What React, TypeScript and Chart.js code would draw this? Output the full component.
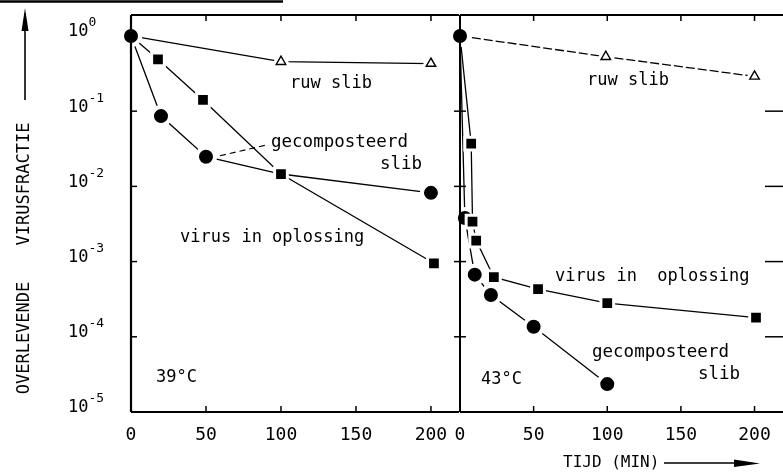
import React, { useEffect, useRef } from "react";
import { Chart, registerables } from "chart.js";

Chart.register(...registerables);

// ---- axes ----
const timeTicks = [0, 50, 100, 150, 200];
const decadeExponents = [0, -1, -2, -3, -4, -5];
const Y_MIN = 1e-5;
const Y_MAX = 1.9;
const X_MAX_39 = 218.7;
const X_MAX_43 = 210.5;

// ---- 39 °C ----
const ruw39X = [0, 100, 200];
const ruw39Y = [1, 0.455, 0.43];
const opl39X = [0, 18, 48, 100, 202];
const opl39Y = [1, 0.49, 0.141, 0.0146, 0.00095];
const comp39X = [0, 20, 50, 100, 200];
const comp39Y = [1, 0.086, 0.0248, 0.0146, 0.0082];

// ---- 43 °C ----
const ruw43X = [0, 99, 200];
const ruw43Y = [1, 0.53, 0.29];
const opl43X = [0, 7.6, 8.5, 11, 23, 53, 100, 201];
const opl43Y = [1, 0.037, 0.0034, 0.0019, 0.00062, 0.00043, 0.00028, 0.00018];
const comp43X = [0, 3.3, 10, 21, 50, 100];
const comp43Y = [1, 0.0038, 0.00067, 0.00036, 0.000136, 0.0000235];

const MONO = '"DejaVu Sans Mono", monospace';

const toPts = (xs: number[], ys: number[]) => xs.map((x, i) => ({ x, y: ys[i] }));

function buildDatasets(
  ruwX: number[], ruwY: number[],
  oplX: number[], oplY: number[],
  compX: number[], compY: number[],
  hiddenComp: number[], ruwDash: number[]
) {
  const ruw = toPts(ruwX, ruwY);
  const opl = toPts(oplX, oplY);
  const comp = toPts(compX, compY);
  const line = { borderColor: "#000", borderWidth: 1.3, tension: 0, fill: false, clip: false as const };
  return [
    // open triangles, on top of everything
    {
      data: ruw.slice(1), showLine: false, clip: false as const,
      pointStyle: "triangle", pointRadius: 5.5,
      pointBackgroundColor: "#fff", pointBorderColor: "#000", pointBorderWidth: 1.4,
    },
    // virus in oplossing (squares)
    {
      ...line, data: opl,
      pointStyle: opl.map((_, i) => (i === 0 ? "circle" : "rect")),
      pointRadius: 9, pointBackgroundColor: "#000", pointBorderColor: "#fff",
      pointBorderWidth: opl.map((_, i) => (i === 0 ? 4 : 3)),
    },
    // gecomposteerd slib (dots)
    {
      ...line, data: comp,
      pointStyle: "circle",
      pointRadius: comp.map((_, i) => (hiddenComp.includes(i) ? 0 : 9)),
      pointBackgroundColor: "#000", pointBorderColor: "#fff", pointBorderWidth: 4,
    },
    // ruw slib line, with a white mask under each triangle
    {
      ...line, data: ruw, borderDash: ruwDash,
      pointStyle: ruw.map((_, i) => (i === 0 ? "circle" : "triangle")),
      pointRadius: ruw.map((_, i) => (i === 0 ? 9 : 8)),
      pointBackgroundColor: ruw.map((_, i) => (i === 0 ? "#000" : "#fff")),
      pointBorderColor: "#fff",
      pointBorderWidth: ruw.map((_, i) => (i === 0 ? 4 : 5)),
    },
  ];
}

function text(ctx: CanvasRenderingContext2D, s: string, x: number, y: number, size: number, align: CanvasTextAlign = "left") {
  ctx.font = `${size}px ${MONO}`;
  ctx.textAlign = align;
  ctx.textBaseline = "middle";
  ctx.fillStyle = "#000";
  ctx.fillText(s, x, y);
}

function seg(ctx: CanvasRenderingContext2D, x1: number, y1: number, x2: number, y2: number, w: number) {
  ctx.lineWidth = w;
  ctx.beginPath();
  ctx.moveTo(x1, y1);
  ctx.lineTo(x2, y2);
  ctx.stroke();
}

// frame, ticks and labels of the 39 °C panel (also carries the y axis)
const leftPanelDecor = {
  id: "leftPanelDecor",
  afterDatasetsDraw(chart: any) {
    const ctx: CanvasRenderingContext2D = chart.ctx;
    const { left, right, top, bottom } = chart.chartArea;
    const xs = chart.scales.x;
    const ys = chart.scales.y;
    ctx.save();
    ctx.strokeStyle = "#000";
    ctx.setLineDash([]);

    // stray rule across the top of the sheet
    seg(ctx, 0, 1.5, 283, 1.5, 2.5);

    seg(ctx, left, top, left, bottom, 2.2);
    seg(ctx, left, top, right, top, 2);
    seg(ctx, left, bottom, right, bottom, 2);
    decadeExponents.forEach((e) => {
      const y = ys.getPixelForValue(Math.pow(10, e));
      if (e !== 0 && e !== -5) seg(ctx, left, y, left + 6, y, 1.5);
      text(ctx, "10", 68, y - 4, 17);
      text(ctx, e === 0 ? "0" : "-" + Math.abs(e), 88.5, y - 13, 13);
    });
    timeTicks.forEach((t) => {
      const x = xs.getPixelForValue(t);
      if (t !== 0) {
        seg(ctx, x, bottom, x, bottom - 6, 1.5);
        seg(ctx, x, top, x, top + 6, 1.5);
      }
      text(ctx, String(t), x, 435, 18, "center");
    });

    // y axis title with arrow
    ctx.save();
    ctx.translate(25, 0);
    ctx.rotate(-Math.PI / 2);
    text(ctx, "VIRUSFRACTIE", -184, 0, 17, "center");
    text(ctx, "OVERLEVENDE", -338, 0, 17, "center");
    ctx.restore();
    seg(ctx, 25, 100, 25, 24, 1.6);
    ctx.fillStyle = "#000";
    ctx.beginPath();
    ctx.moveTo(25, 8);
    ctx.lineTo(28.5, 31);
    ctx.lineTo(21.5, 31);
    ctx.closePath();
    ctx.fill();

    // annotations
    text(ctx, "ruw slib", 290, 84, 17);
    text(ctx, "gecomposteerd", 271, 142, 17.5);
    text(ctx, "slib", 380, 164, 17.5);
    text(ctx, "virus in oplossing", 180, 238, 17);
    text(ctx, "39°C", 156, 378, 17);

    // dashed leader to the 50 min dot
    const px = xs.getPixelForValue(comp39X[2]);
    const py = ys.getPixelForValue(comp39Y[2]);
    ctx.setLineDash([6, 4]);
    seg(ctx, px + 14, py - 1, px + 62, py - 12, 1.2);
    ctx.setLineDash([]);
    ctx.restore();
  },
};

// frame, ticks and labels of the 43 °C panel
const rightPanelDecor = {
  id: "rightPanelDecor",
  afterDatasetsDraw(chart: any) {
    const ctx: CanvasRenderingContext2D = chart.ctx;
    const { left, right, top, bottom } = chart.chartArea;
    const xs = chart.scales.x;
    const ys = chart.scales.y;
    ctx.save();
    ctx.strokeStyle = "#000";
    ctx.setLineDash([]);
    seg(ctx, left, top, left, bottom, 2);
    seg(ctx, left, top, 783, top, 2);
    seg(ctx, left, bottom, 783, bottom, 2);
    decadeExponents.forEach((e) => {
      if (e === 0 || e === -5) return;
      const y = ys.getPixelForValue(Math.pow(10, e));
      seg(ctx, left - 6, y, left + 6, y, 1.5);
      seg(ctx, 783, y, right - 5, y, 1.5);
    });
    timeTicks.forEach((t) => {
      const x = xs.getPixelForValue(t);
      if (t !== 0) {
        seg(ctx, x, bottom, x, bottom - 6, 1.5);
        seg(ctx, x, top, x, top + 6, 1.5);
      }
      text(ctx, String(t), x, 435, 18, "center");
    });

    // x axis title with arrow
    text(ctx, "TIJD (MIN)", 563, 463, 16);
    seg(ctx, 664, 463, 740, 463, 1.6);
    ctx.fillStyle = "#000";
    ctx.beginPath();
    ctx.moveTo(760, 463.5);
    ctx.lineTo(734, 459.5);
    ctx.lineTo(734, 467);
    ctx.closePath();
    ctx.fill();

    // annotations
    text(ctx, "ruw slib", 587, 81, 17);
    text(ctx, "virus in  oplossing", 555, 277, 17);
    text(ctx, "gecomposteerd", 592, 352, 17.5);
    text(ctx, "slib", 698, 374, 17.5);
    text(ctx, "43°C", 481, 380, 17);
    ctx.restore();
  },
};

function makeOptions(xMax: number, padding: any) {
  return {
    responsive: false,
    animation: false as const,
    events: [] as any[],
    layout: { padding },
    plugins: { legend: { display: false }, tooltip: { enabled: false } },
    scales: {
      x: { type: "linear" as const, min: 0, max: xMax, display: false },
      y: { type: "logarithmic" as const, min: Y_MIN, max: Y_MAX, display: false },
    },
  };
}

export default function App() {
  const leftRef = useRef<HTMLCanvasElement>(null);
  const rightRef = useRef<HTMLCanvasElement>(null);

  useEffect(() => {
    const left = new Chart(leftRef.current!, {
      type: "line",
      data: { datasets: buildDatasets(ruw39X, ruw39Y, opl39X, opl39Y, comp39X, comp39Y, [3], []) as any },
      options: makeOptions(X_MAX_39, { left: 131, right: 324, top: 15, bottom: 62 }) as any,
      plugins: [leftPanelDecor],
    });
    const right = new Chart(rightRef.current!, {
      type: "line",
      data: { datasets: buildDatasets(ruw43X, ruw43Y, opl43X, opl43Y, comp43X, comp43Y, [], [9, 3]) as any },
      options: makeOptions(X_MAX_43, { left: 460, right: 1, top: 15, bottom: 62 }) as any,
      plugins: [rightPanelDecor],
    });
    return () => {
      left.destroy();
      right.destroy();
    };
  }, []);

  const canvasStyle: React.CSSProperties = { position: "absolute", left: 0, top: 0, width: 783, height: 474 };
  return (
    <div style={{ position: "absolute", left: 0, top: 0, width: 783, height: 474, background: "#fff", overflow: "hidden" }}>
      <canvas ref={leftRef} width={783} height={474} style={canvasStyle} />
      <canvas ref={rightRef} width={783} height={474} style={canvasStyle} />
    </div>
  );
}
